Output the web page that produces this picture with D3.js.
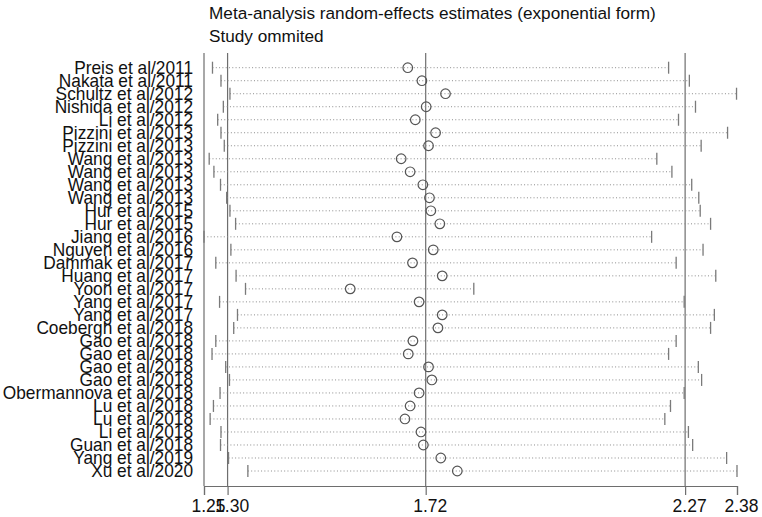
<!DOCTYPE html>
<html lang="en">
<head>
    <meta charset="utf8">
    <title>Meta-analysis influence plot</title>
    <script src="https://d3js.org/d3.v7.min.js"></script>
    <style>
        body { margin: 0; background: #fff; }
        svg { display: block; }
        text { font-family: "Liberation Sans", Arial, sans-serif; fill: #111; }
    </style>
</head>
<body>
    <svg id="chart" width="762" height="517"></svg>
    <script>
        const studies = [
            "Preis et al/2011", "Nakata et al/2011", "Schultz et al/2012", "Nishida et al/2012",
            "Li et al/2012", "Pizzini et al/2013", "Pizzini et al/2013", "Wang et al/2013",
            "Wang et al/2013", "Wang et al/2013", "Wang et al/2013", "Hur et al/2015",
            "Hur et al/2015", "Jiang et al/2016", "Nguyen et al/2016", "Dammak et al/2017",
            "Huang et al/2017", "Yoon et al/2017", "Yang et al/2017", "Yang et al/2017",
            "Coebergh et al/2018", "Gao et al/2018", "Gao et al/2018", "Gao et al/2018",
            "Gao et al/2018", "Obermannova et al/2018", "Lu et al/2018", "Lu et al/2018",
            "Li et al/2018", "Guan et al/2018", "Yang et al/2019", "Xu et al/2020"
        ];
        const estimate = [
            1.682, 1.712, 1.762, 1.721, 1.698, 1.741, 1.726, 1.668,
            1.687, 1.714, 1.728, 1.731, 1.750, 1.659, 1.736, 1.692,
            1.755, 1.560, 1.706, 1.755, 1.746, 1.693, 1.683, 1.726,
            1.733, 1.706, 1.687, 1.676, 1.710, 1.715, 1.752, 1.787
        ];
        const lower = [
            1.268, 1.286, 1.305, 1.291, 1.279, 1.286, 1.293, 1.261,
            1.271, 1.285, 1.298, 1.305, 1.317, 1.250, 1.307, 1.275,
            1.318, 1.338, 1.283, 1.321, 1.313, 1.275, 1.267, 1.296,
            1.304, 1.284, 1.270, 1.263, 1.286, 1.285, 1.302, 1.343
        ];
        const upper = [
            2.235, 2.279, 2.379, 2.292, 2.256, 2.360, 2.304, 2.210,
            2.242, 2.284, 2.299, 2.302, 2.324, 2.199, 2.308, 2.251,
            2.335, 1.822, 2.268, 2.332, 2.324, 2.251, 2.235, 2.298,
            2.305, 2.268, 2.239, 2.227, 2.277, 2.286, 2.358, 2.380
        ];
        const tickValues = [1.25, 1.30, 1.72, 2.27, 2.38];
        const refLines = [1.25, 1.30, 1.72, 2.27];

        const svg = d3.select("#chart");
        const x = d3.scaleLinear().domain([1.25, 2.38]).range([204, 737]);
        const y = d3.scaleLinear().domain([0, studies.length - 1]).range([67.7, 471]);
        const plotTop = 53, axisY = 486;

        const rows = studies.map((s, i) => ({ s, i, est: estimate[i], lo: lower[i], hi: upper[i] }));

        // titles
        svg.append("text").attr("x", 209).attr("y", 18.5).attr("font-size", 17.2)
            .text("Meta-analysis random-effects estimates (exponential form)");
        svg.append("text").attr("x", 209).attr("y", 41.5).attr("font-size", 17.2)
            .text("Study ommited");

        // reference lines
        svg.selectAll(".ref").data(refLines).enter().append("line")
            .attr("x1", d => x(d)).attr("x2", d => x(d))
            .attr("y1", plotTop).attr("y2", axisY)
            .attr("stroke", "#6e6e6e").attr("stroke-width", 1.2);

        // CI dotted lines
        svg.selectAll(".ci").data(rows).enter().append("line")
            .attr("x1", d => x(d.lo)).attr("x2", d => x(d.hi))
            .attr("y1", d => y(d.i)).attr("y2", d => y(d.i))
            .attr("stroke", "#8c8c8c").attr("stroke-width", 1)
            .attr("stroke-dasharray", "1,2.3");

        // caps
        ["lo", "hi"].forEach(k => {
            svg.selectAll(".cap-" + k).data(rows).enter().append("line")
                .attr("x1", d => x(d[k])).attr("x2", d => x(d[k]))
                .attr("y1", d => y(d.i) - 6).attr("y2", d => y(d.i) + 6)
                .attr("stroke", "#7a7a7a").attr("stroke-width", 1.3);
        });

        // estimates
        svg.selectAll(".est").data(rows).enter().append("circle")
            .attr("cx", d => x(d.est)).attr("cy", d => y(d.i)).attr("r", 4.8)
            .attr("fill", "none").attr("stroke", "#555").attr("stroke-width", 1.2);

        // study labels (slightly taller than wide, as in the original)
        svg.selectAll(".lab").data(rows).enter().append("text")
            .attr("transform", d => `translate(193,${y(d.i) + 6.3}) scale(1,1.05)`)
            .attr("text-anchor", "end").attr("font-size", 17.3)
            .text(d => d.s);

        // x axis
        const axis = svg.append("g").attr("transform", `translate(0,${axisY})`)
            .call(d3.axisBottom(x).tickValues(tickValues).tickFormat(d3.format(".2f")).tickSize(9).tickPadding(5));
        axis.select(".domain").attr("stroke", "#6e6e6e").attr("stroke-width", 1.2);
        axis.selectAll(".tick line").attr("stroke", "#6e6e6e").attr("stroke-width", 1.2);
        axis.selectAll(".tick text").attr("font-size", 17.5).attr("dx", 4)
            .attr("font-family", "'Liberation Sans', Arial, sans-serif").attr("fill", "#111");
    </script>
</body>
</html>
